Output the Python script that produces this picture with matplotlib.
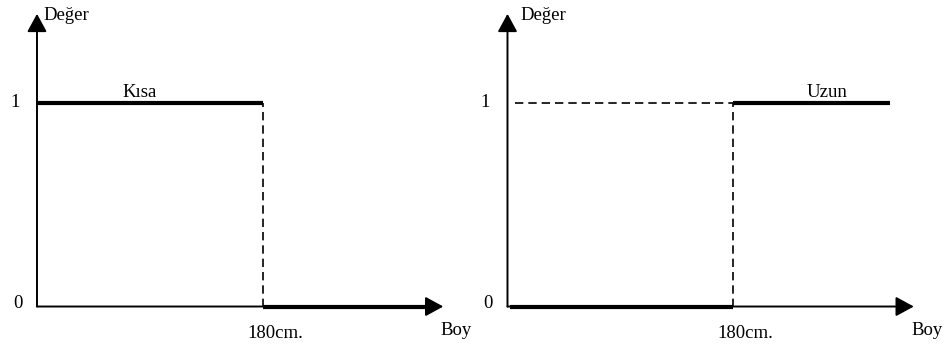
import matplotlib
matplotlib.use('Agg')
import matplotlib.pyplot as plt

# data: crisp sets for height (boy) with threshold 180 cm
esik = 180
x_kisa_ust = [0, esik]          # Kısa = 1
x_kisa_alt = [esik, 313]        # Kısa = 0
x_uzun_alt = [2, esik]          # Uzun = 0
x_uzun_ust = [esik, 305]        # Uzun = 1
x_uzun_kesik = [6, esik]        # dashed guide at 1
etiketler = ['Kısa', 'Uzun']
x_eksen_sonu = 324
y_eksen_sonu = 1.438

plt.rcParams['font.family'] = ['Liberation Serif', 'DejaVu Serif']
fs = 13.5

W, H = 944, 346
fig = plt.figure(figsize=(W / 100, H / 100), dpi=100)

xlim = (-29.5, 346.9)
ylim = (-0.194, 1.506)


def panel(left_px, ust_x, alt_x, kesik_x, etiket, etiket_x, deger_x):
    ax = fig.add_axes([left_px / W, 0, 472 / W, 1])
    ax.set_xlim(xlim)
    ax.set_ylim(ylim)
    ax.axis('off')

    # axes with arrows
    ok = dict(arrowstyle='-|>,head_length=1.1,head_width=0.6', color='black',
              lw=1.4, mutation_scale=10, shrinkA=0, shrinkB=0)
    ax.annotate('', xy=(x_eksen_sonu, 0), xytext=(0, 0), arrowprops=ok)
    ax.annotate('', xy=(0, y_eksen_sonu), xytext=(0, 0), arrowprops=ok)

    # thick membership lines
    ax.plot(ust_x, [1, 1], color='black', lw=3, solid_capstyle='butt')
    ax.plot(alt_x, [0, 0], color='black', lw=3, solid_capstyle='butt')

    # dashed guides
    ax.plot([esik, esik], [0, 1], color='black', lw=1.2, ls=(0, (5, 3)))
    if kesik_x is not None:
        ax.plot(kesik_x, [1, 1], color='black', lw=1.2, ls=(0, (5, 3)))

    # texts
    ax.text(deger_x, 1.432, 'Değer', fontsize=fs, ha='left', va='center')
    ax.text(-17.5, 1.0, '1', fontsize=fs, ha='center', va='center')
    ax.text(-15.3, 0.017, '0', fontsize=fs, ha='center', va='center')
    ax.text(etiket_x, 1.05, etiket, fontsize=fs, ha='center', va='center')
    ax.text(190, -0.135, '180cm.', fontsize=fs, ha='center', va='center')
    ax.text(322, -0.12, 'Boy', fontsize=fs, ha='left', va='center',
            clip_on=False)
    return ax


panel(0, x_kisa_ust, x_kisa_alt, None, etiketler[0], 82, 4.8)
panel(470.5, x_uzun_ust, x_uzun_alt, x_uzun_kesik, etiketler[1], 254.8, 10)

fig.savefig('out.png', dpi=100)
